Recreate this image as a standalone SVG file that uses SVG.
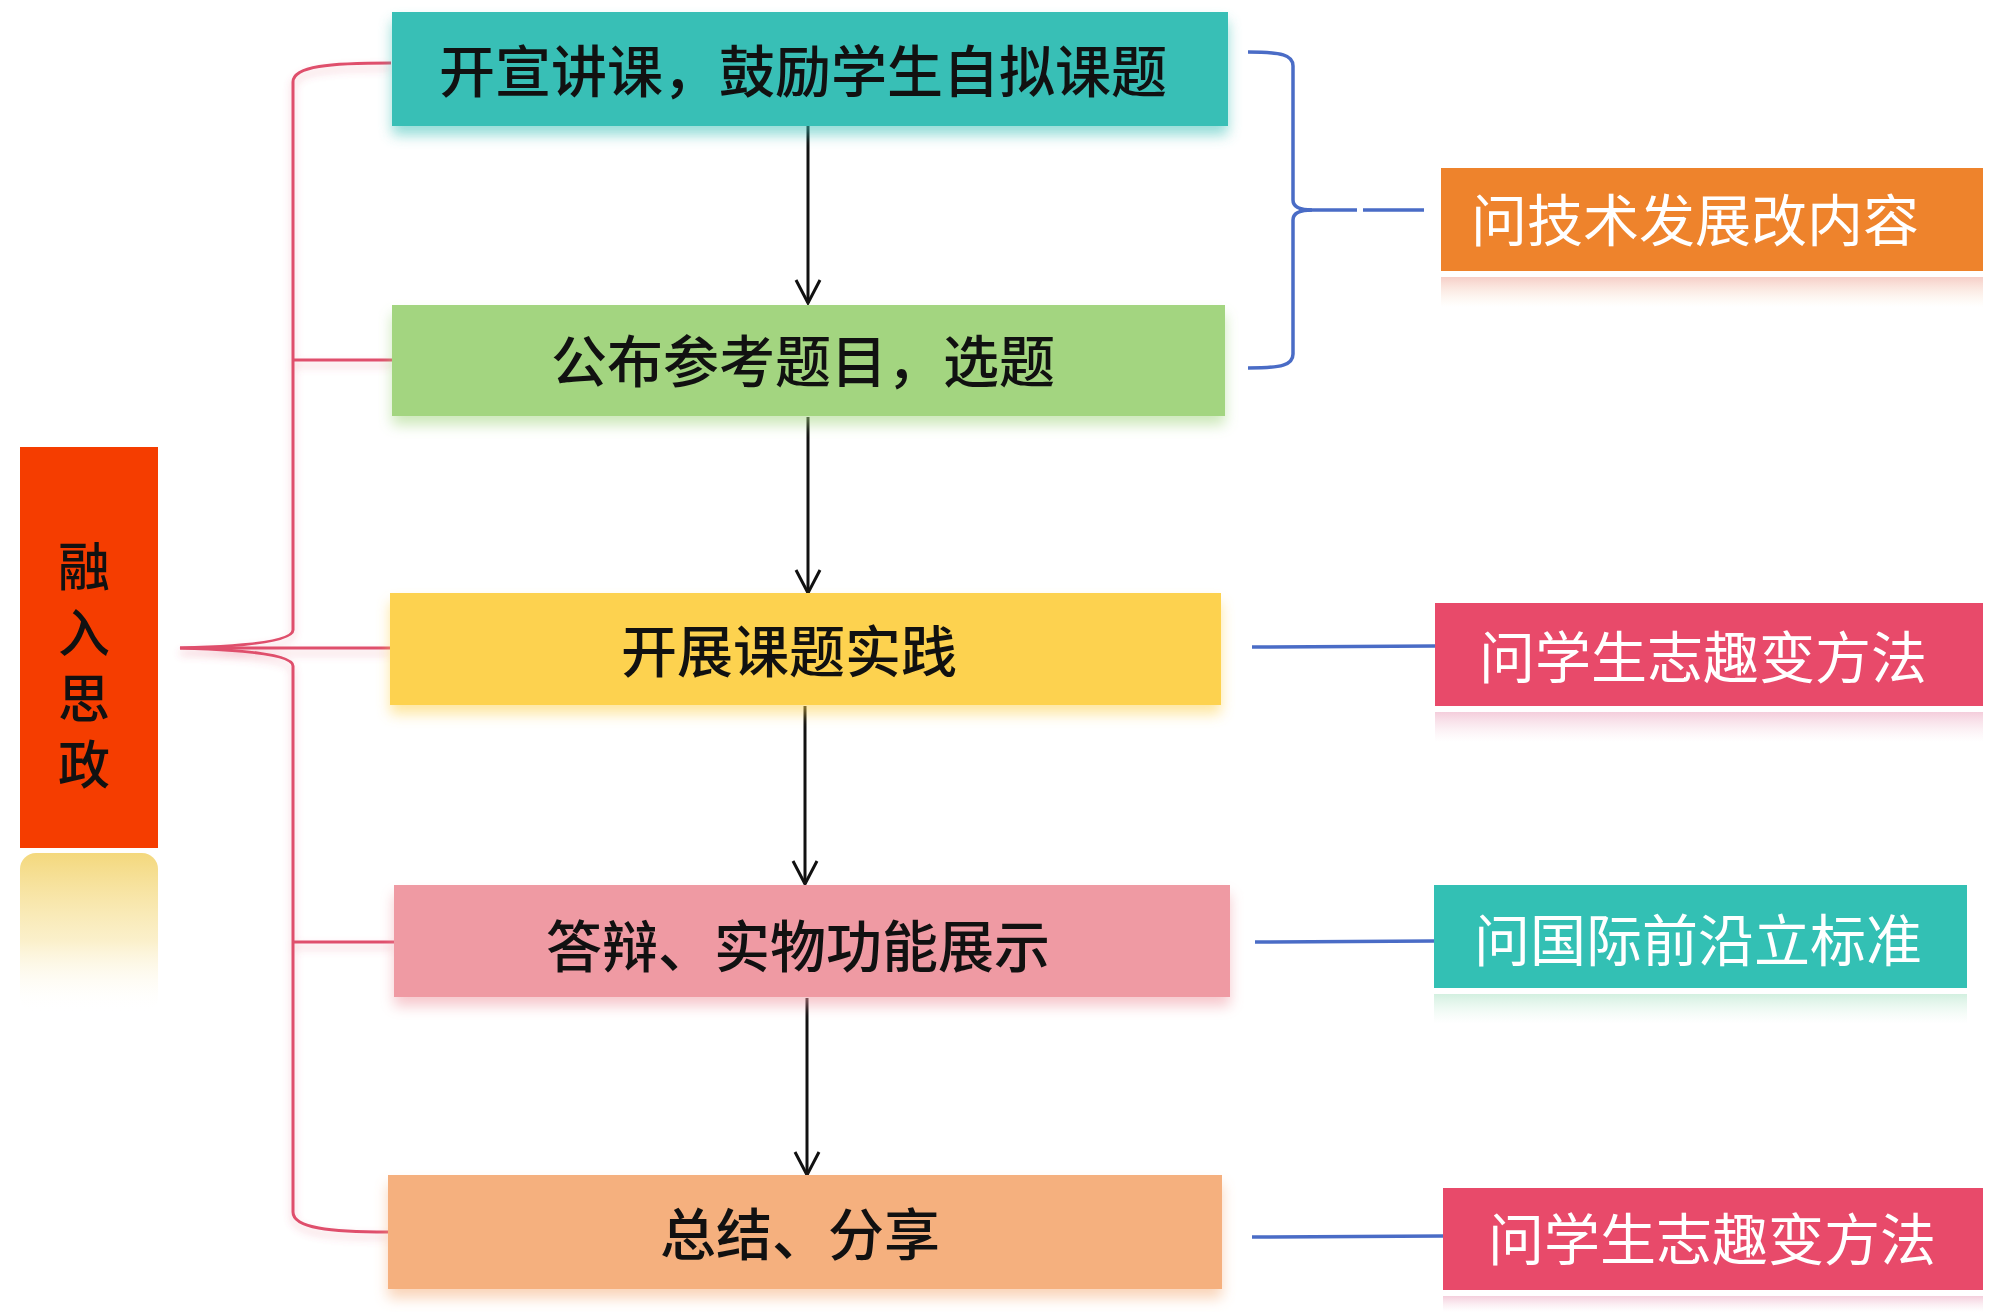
<svg xmlns="http://www.w3.org/2000/svg" width="2000" height="1312" viewBox="0 0 2000 1312">
<style>
.lt{font-family:"Noto Sans CJK SC","Noto Sans CJK TC",sans-serif;font-size:56px;fill:#111;font-weight:500;text-anchor:middle;dominant-baseline:central}
.rt{font-family:"Noto Sans CJK SC","Noto Sans CJK TC",sans-serif;font-size:56px;fill:#fff;font-weight:400;text-anchor:middle;dominant-baseline:central}
.vt{font-family:"Noto Sans CJK SC","Noto Sans CJK TC",sans-serif;font-size:52px;fill:#111;font-weight:500;writing-mode:vertical-rl;letter-spacing:14px}
.red{fill:none;stroke:#df4f6c;stroke-width:3}
.blue{fill:none;stroke:#4a6cc6;stroke-width:3.5}
.arr{fill:none;stroke:#111;stroke-width:3;marker-end:url(#ah)}
</style>
<defs>
<filter id="sh" x="-10%" y="-30%" width="120%" height="170%">
<feGaussianBlur in="SourceGraphic" stdDeviation="7" result="b"/>
<feOffset in="b" dy="9" result="o"/>
<feComponentTransfer in="o" result="t"><feFuncA type="linear" slope="0.55"/></feComponentTransfer>
<feMerge><feMergeNode in="t"/><feMergeNode in="SourceGraphic"/></feMerge>
</filter>
<filter id="glow" x="-20%" y="-5%" width="140%" height="110%">
<feGaussianBlur in="SourceGraphic" stdDeviation="4" result="b"/>
<feOffset in="b" dy="5" result="o"/>
<feComponentTransfer in="o" result="t"><feFuncA type="linear" slope="0.35"/></feComponentTransfer>
<feMerge><feMergeNode in="t"/><feMergeNode in="SourceGraphic"/></feMerge>
</filter>
<marker id="ah" markerUnits="userSpaceOnUse" viewBox="-26 -14 28 28" refX="0" refY="0" markerWidth="28" markerHeight="28" orient="auto">
<path d="M-23,-12 L0,0 L-23,12" fill="none" stroke="#111" stroke-width="3"/>
</marker>
<linearGradient id="fade" x1="0" y1="0" x2="0" y2="1">
<stop offset="0" stop-color="#f3d676" stop-opacity="0.95"/>
<stop offset="0.55" stop-color="#f8e6a8" stop-opacity="0.6"/>
<stop offset="1" stop-color="#ffffff" stop-opacity="0"/>
</linearGradient>
<linearGradient id="refO" x1="0" y1="0" x2="0" y2="1">
<stop offset="0" stop-color="#f2b9b0" stop-opacity="0.7"/>
<stop offset="1" stop-color="#fbe3c8" stop-opacity="0"/>
</linearGradient>
<linearGradient id="refC" x1="0" y1="0" x2="0" y2="1">
<stop offset="0" stop-color="#efb8cc" stop-opacity="0.7"/>
<stop offset="1" stop-color="#f8dde6" stop-opacity="0"/>
</linearGradient>
<linearGradient id="refT" x1="0" y1="0" x2="0" y2="1">
<stop offset="0" stop-color="#bfe9d2" stop-opacity="0.7"/>
<stop offset="1" stop-color="#e2f6ea" stop-opacity="0"/>
</linearGradient>
</defs>
<rect width="2000" height="1312" fill="#ffffff"/>

<g id="connectors">
<g filter="url(#glow)">
<path class="red" d="M391,63 C330,63 293,66 293,82 L293,630 Q293,645 180,648 Q293,651 293,666 L293,1212 C293,1228 330,1232 388,1232"/>
<path class="red" d="M293,360 L392,360 M180,648 L390,648 M293,942 L394,942"/>
</g>
<path class="blue" d="M1248,52 C1282,52 1293,55 1293,66 L1293,200 Q1293,210 1312,210 Q1293,210 1293,220 L1293,354 C1293,365 1282,368 1248,368"/>
<path class="blue" d="M1300,210 L1357,210 M1363,210 L1424,210"/>
<path class="blue" d="M1252,647 L1435,646"/>
<path class="blue" d="M1255,942 L1434,941"/>
<path class="blue" d="M1252,1237 L1443,1236"/>
<path class="arr" d="M808,126 L808,303"/>
<path class="arr" d="M808,417 L808,593"/>
<path class="arr" d="M805,706 L805,884"/>
<path class="arr" d="M807,998 L807,1175"/>
</g>

<g id="node-szx">
<rect x="20" y="853" width="138" height="160" rx="16" fill="url(#fade)"/>
<rect x="20" y="447" width="138" height="401" fill="#f53d00"/>
<text class="vt" x="84" y="540">融入思政</text>
</g>

<g id="node-1">
<rect x="392" y="12" width="836" height="114" fill="#37bfb6" filter="url(#sh)"/>
<text class="lt" x="803" y="67">开宣讲课，鼓励学生自拟课题</text>
</g>
<g id="node-2">
<rect x="392" y="305" width="833" height="111" fill="#a3d580" filter="url(#sh)"/>
<text class="lt" x="803" y="357">公布参考题目，选题</text>
</g>
<g id="node-3">
<rect x="390" y="593" width="831" height="112" fill="#fdd24f" filter="url(#sh)"/>
<text class="lt" x="789" y="647">开展课题实践</text>
</g>
<g id="node-4">
<rect x="394" y="885" width="836" height="112" fill="#ef9aa3" filter="url(#sh)"/>
<text class="lt" x="798" y="942">答辩、实物功能展示</text>
</g>
<g id="node-5">
<rect x="388" y="1175" width="834" height="114" fill="#f5b07e" filter="url(#sh)"/>
<text class="lt" x="800" y="1230">总结、分享</text>
</g>

<g id="node-r1">
<rect x="1441" y="277" width="542" height="30" fill="url(#refO)"/>
<rect x="1441" y="168" width="542" height="103" fill="#ee832c"/>
<text class="rt" x="1695" y="216">问技术发展改内容</text>
</g>
<g id="node-r2">
<rect x="1435" y="712" width="548" height="30" fill="url(#refC)"/>
<rect x="1435" y="603" width="548" height="103" fill="#e84a6a"/>
<text class="rt" x="1703" y="653">问学生志趣变方法</text>
</g>
<g id="node-r3">
<rect x="1434" y="994" width="533" height="30" fill="url(#refT)"/>
<rect x="1434" y="885" width="533" height="103" fill="#33c0b4"/>
<text class="rt" x="1698" y="936">问国际前沿立标准</text>
</g>
<g id="node-r4">
<rect x="1443" y="1296" width="540" height="16" fill="url(#refC)"/>
<rect x="1443" y="1188" width="540" height="102" fill="#e84a6a"/>
<text class="rt" x="1712" y="1235">问学生志趣变方法</text>
</g>
</svg>
